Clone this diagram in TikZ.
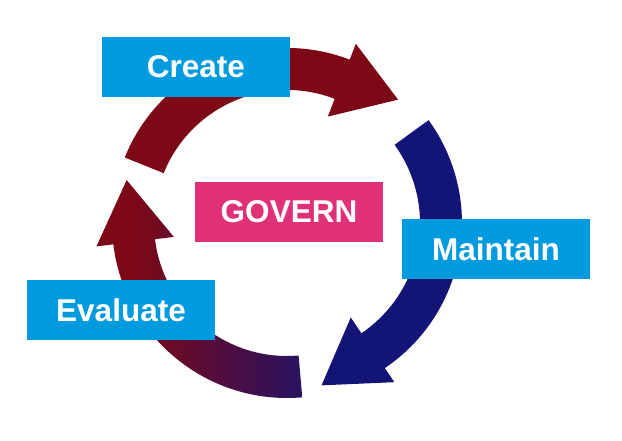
\documentclass[tikz,border=0pt]{standalone}
\usepackage{fontspec}
\setmainfont{Liberation Sans}
\definecolor{labelblue}{RGB}{0,155,222}
\definecolor{governpink}{RGB}{224,48,120}
\definecolor{arrowred}{RGB}{125,8,22}
\definecolor{arrownavy}{RGB}{18,21,118}
\definecolor{arrowpurple}{RGB}{45,18,92}
\pgfdeclarehorizontalshading{evalshade}{100bp}{color(0bp)=(arrowred); color(34bp)=(arrowred); color(72bp)=(arrowpurple); color(100bp)=(arrowpurple)}
\begin{document}
\begin{tikzpicture}[x=1pt, y=1pt,
  stage/.style={rectangle, fill=labelblue, minimum width=188pt, minimum height=60pt, inner sep=0pt, text=white, font=\fontsize{31.5}{38}\selectfont\bfseries},
  core/.style={stage, fill=governpink},
]
  \useasboundingbox (0,0) rectangle (622,440);
  \coordinate (ctr) at (287,217);

  % the three curved arrows of the cycle
  \begin{scope}[shift={(ctr)}]
    \fill[arrowred] (158:175) arc[start angle=158, end angle=69, radius=175] -- (69:192) -- (48:166) -- (69:114) -- (69:133) arc[start angle=69, end angle=158, radius=133] -- cycle;
    \fill[arrownavy] (36:175) arc[start angle=36, end angle=-56, radius=175] -- (-56:192) -- (-78:166) -- (-56:114) -- (-56:133) arc[start angle=-56, end angle=36, radius=133] -- cycle;
    \shade[shading=evalshade] (275:175) arc[start angle=275, end angle=187, radius=175] -- (187:192) -- (165:166) -- (187:114) -- (187:133) arc[start angle=187, end angle=275, radius=133] -- cycle;
  \end{scope}

  \node[stage] (create) at (196,373) {Create};
  \node[core] (govern) at (289,228) {GOVERN};
  \node[stage] (maintain) at (496,191) {Maintain};
  \node[stage] (evaluate) at (121,130) {Evaluate};
\end{tikzpicture}
\end{document}
